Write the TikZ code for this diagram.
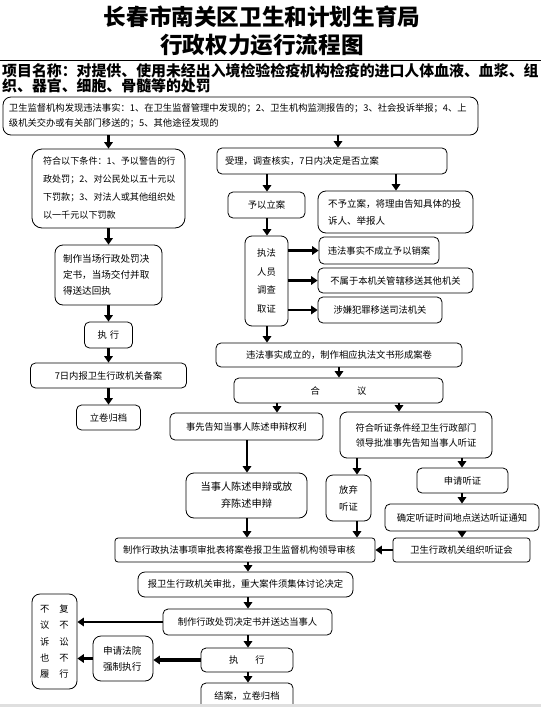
\documentclass[tikz,border=0pt]{standalone}
\usepackage{fontspec}
\newfontfamily\cjk{Noto Sans CJK SC}
\usetikzlibrary{arrows.meta}
\begin{document}
\begin{tikzpicture}[x=1pt,y=-1pt,
  box/.style={draw, line width=0.8pt, rounded corners=5pt, inner xsep=4pt, inner ysep=0pt, align=center, font=\cjk\fontsize{9.3}{16}\selectfont},
  arr/.style={line width=2.5pt, -{Triangle[length=6.5pt,width=8.5pt]}},
  ttl/.style={font=\cjk\bfseries\fontsize{22.6}{26}\selectfont, inner sep=0pt},
  proj/.style={font=\cjk\bfseries\fontsize{14.9}{17}\selectfont, inner sep=0pt, anchor=west}]
\useasboundingbox (0,0) rectangle (541,707);
% column / row helpers
\coordinate (c247) at (247,0);
\coordinate (c248) at (248,0);
\coordinate (c267) at (267,0);
\coordinate (c277) at (277,0);
\coordinate (c338) at (338,0);
\coordinate (c357) at (357,0);
\coordinate (c396) at (396,0);
\coordinate (c399) at (399,0);
\coordinate (c462) at (462,0);
% title
\node[ttl] (t1) at (262,17) {长春市南关区卫生和计划生育局};
\node[ttl] (t2) at (262,45) {行政权力运行流程图};
\draw[line width=0.8pt] (0,60) -- (541,60);
\node[proj] (p1) at (2,71) {项目名称：对提供、使用未经出入境检验检疫机构检疫的进口人体血液、血浆、组};
\node[proj] (p2) at (2,86) {织、器官、细胞、骨髓等的处罚};
% boxes
\node[box, rounded corners=8pt, minimum width=475pt, minimum height=38pt, text width=463pt, inner xsep=6pt, align=left, font=\cjk\fontsize{9.3}{15}\selectfont] (b1) at (240.5,116) {卫生监督机构发现违法事实：1、在卫生监督管理中发现的；2、卫生机构监测报告的；3、社会投诉举报；4、上\\级机关交办或有关部门移送的；5、其他途径发现的};
\node[box, rounded corners=10pt, minimum width=153pt, minimum height=79pt, text width=131pt, inner xsep=11pt, align=left, font=\cjk\fontsize{9.1}{18}\selectfont] (b2) at (108.5,188.5) {符合以下条件：1、予以警告的行\\政处罚；2、对公民处以五十元以\\下罚款；3、对法人或其他组织处\\以一千元以下罚款};
\node[box, rounded corners=8pt, minimum width=107pt, minimum height=60pt, text width=91pt, inner xsep=8pt, align=left, font=\cjk\fontsize{9.6}{16}\selectfont] (b3) at (108.5,275) {制作当场行政处罚决\\定书，当场交付并取\\得送达回执};
\node[box, minimum width=48pt, minimum height=26pt] (b4) at (108.5,335) {执\hspace{3pt}行};
\node[box, minimum width=156pt, minimum height=25pt] (b5) at (108.5,375.5) {7日内报卫生行政机关备案};
\node[box, minimum width=64pt, minimum height=25pt] (b6) at (108.5,417.5) {立卷归档};
\node[box, minimum width=230pt, minimum height=26pt, text width=214pt, inner xsep=8pt, align=left] (r1) at (332,161) {受理，调查核实，7日内决定是否立案};
\node[box, minimum width=77pt, minimum height=26pt] (r2) at (266.5,205) {予以立案};
\node[box, rounded corners=8pt, minimum width=155pt, minimum height=42pt, text width=135pt, inner xsep=10pt, align=left, font=\cjk\fontsize{9.5}{17}\selectfont] (r3) at (395.5,212) {不予立案，将理由告知具体的投\\诉人、举报人};
\node[box, rounded corners=7pt, minimum width=43pt, minimum height=90pt, font=\cjk\fontsize{9.3}{18.6}\selectfont] (r4) at (266.5,281) {执法\\人员\\调查\\取证};
\node[box, minimum width=120pt, minimum height=27pt] (r5) at (379,250.5) {违法事实不成立予以销案};
\node[box, minimum width=155pt, minimum height=25pt] (r6) at (395.5,280.5) {不属于本机关管辖移送其他机关};
\node[box, minimum width=124pt, minimum height=26pt] (r7) at (380,310) {涉嫌犯罪移送司法机关};
\node[box, minimum width=246pt, minimum height=24pt] (r8) at (339,355) {违法事实成立的，制作相应执法文书形成案卷};
\node[box, minimum width=209pt, minimum height=25pt] (r9) at (338.5,390.5) {合\hspace{37pt}议};
\node[box, minimum width=153pt, minimum height=27pt] (l10) at (246.5,426.5) {事先告知当事人陈述申辩权利};
\node[box, rounded corners=7pt, minimum width=152pt, minimum height=46pt, font=\cjk\fontsize{9.3}{15}\selectfont] (r10) at (416,435) {符合听证条件经卫生行政部门\\领导批准事先告知当事人听证};
\node[box, rounded corners=8pt, minimum width=121pt, minimum height=45pt, font=\cjk\fontsize{10.2}{17}\selectfont] (l11) at (246.5,495.5) {当事人陈述申辩或放\\弃陈述申辩};
\node[box, rounded corners=7pt, minimum width=45pt, minimum height=46pt, font=\cjk\fontsize{9.3}{17}\selectfont] (r11) at (348.5,498) {放弃\\听证};
\node[box, minimum width=91pt, minimum height=25pt] (r12) at (462.5,480.5) {申请听证};
\node[box, minimum width=154pt, minimum height=27pt] (r13) at (462,517.5) {确定听证时间地点送达听证通知};
\node[box, rounded corners=3pt, minimum width=137pt, minimum height=24pt] (r14) at (461.5,550) {卫生行政机关组织听证会};
\node[box, rounded corners=3pt, minimum width=260pt, minimum height=24pt, text width=244pt, inner xsep=8pt, align=left] (m1) at (245,550) {制作行政执法事项审批表将案卷报卫生监督机构领导审核};
\node[box, rounded corners=7pt, minimum width=215pt, minimum height=25pt] (m2) at (245.5,584.5) {报卫生行政机关审批，重大案件须集体讨论决定};
\node[box, minimum width=169pt, minimum height=26pt] (m3) at (247.5,622) {制作行政处罚决定书并送达当事人};
\node[box, minimum width=92pt, minimum height=24pt] (m4) at (247,660) {执\hspace{17pt}行};
\node[box, minimum width=92pt, minimum height=26pt] (m5) at (247,696) {结案，立卷归档};
\node[box, rounded corners=8pt, minimum width=60pt, minimum height=45pt, text width=40pt, inner xsep=10pt, align=left, font=\cjk\fontsize{9.6}{16}\selectfont] (l12) at (123,658.5) {申请法院\\强制执行};
\node[box, rounded corners=8pt, minimum width=45pt, minimum height=95pt, font=\cjk\fontsize{9.3}{16.3}\selectfont] (l13) at (54.5,641.5) {不\hspace{10pt}复\\议\hspace{10pt}不\\诉\hspace{10pt}讼\\也\hspace{10pt}不\\履\hspace{10pt}行};
% connectors
\draw[arr] (b1.south -| b2.north) -- (b2.north);
\draw[arr] (b1.south -| c338) -- (r1.north -| c338);
\draw[arr] (b2.south) -- (b3.north);
\draw[arr] (b3.south) -- (b4.north);
\draw[arr] (b4.south) -- (b5.north);
\draw[arr] (b5.south) -- (b6.north);
\draw[arr] (r1.south -| c267) -- (r2.north -| c267);
\draw[arr] (r1.south -| c396) -- (r3.north -| c396);
\draw[arr] (r2.south -| c267) -- (r4.north -| c267);
\draw[arr] (r4.east |- r5.west) -- (r5.west);
\draw[arr] (r4.east |- r6.west) -- (r6.west);
\draw[arr] (r4.east |- r7.west) -- (r7.west);
\draw[arr] (r4.south -| c267) -- (r8.north -| c267);
\draw[arr] (r8.south) -- (r8.south |- r9.north);
\draw[arr] (r9.south -| c277) -- (l10.north -| c277);
\draw[arr] (r9.south -| c399) -- (r10.north -| c399);
\draw[arr] (l10.south -| c247) -- (l11.north -| c247);
\draw[arr] (r10.south -| c357) -- (r11.north -| c357);
\draw[arr] (r10.south -| c462) -- (r12.north -| c462);
\draw[arr] (r12.south -| c462) -- (r13.north -| c462);
\draw[arr] (r13.south -| c462) -- (r14.north -| c462);
\draw[arr] (r14.west) -- (m1.east);
\draw[arr] (l11.south -| c247) -- (m1.north -| c247);
\draw[arr] (r11.south -| c357) -- (m1.north -| c357);
\draw[arr] (m1.south -| c248) -- (m2.north -| c248);
\draw[arr] (m2.south -| c248) -- (m3.north -| c248);
\draw[arr] (m3.south -| c248) -- (m4.north -| c248);
\draw[arr] (m4.south -| c248) -- (m5.north -| c248);
\draw[arr] (m3.west) -- (m3.west -| l13.east);
\draw[arr, line width=3.5pt] (m4.west) -- (m4.west -| l12.east);
\draw[arr] (l12.west) -- (l12.west -| l13.east);
% page edge
\fill[gray!25] (0,704) rectangle (541,707);
\end{tikzpicture}
\end{document}
